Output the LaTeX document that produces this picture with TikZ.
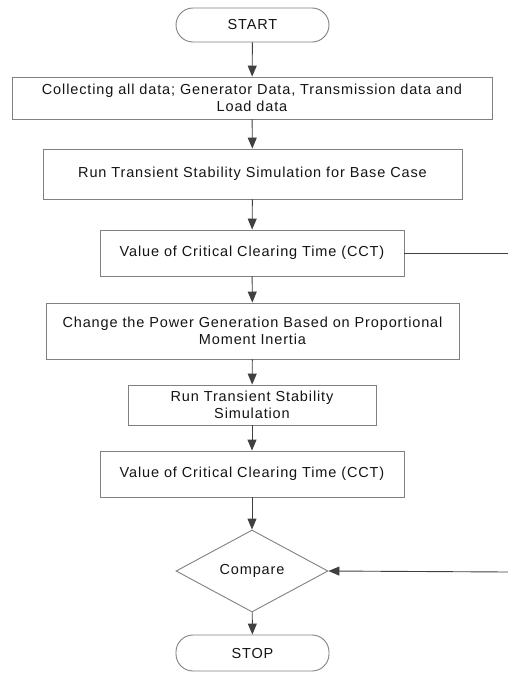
\documentclass[tikz,border=0pt]{standalone}
\usepackage{fontspec}
\setmainfont{Liberation Sans}[LetterSpace=6]
\usetikzlibrary{arrows.meta,shapes.geometric}
\definecolor{boxline}{gray}{0.5}
\definecolor{arrline}{gray}{0.25}
\definecolor{txt}{gray}{0.08}
\begin{document}
\begin{tikzpicture}[x=1pt,y=-1pt,
  every node/.style={font=\fontsize{14.5}{16.5}\selectfont, text=txt},
  procbox/.style={draw=boxline, line width=0.9pt, rectangle, align=center, inner sep=0pt},
  term/.style={draw=boxline, line width=0.9pt, rectangle, rounded corners=17pt, align=center, inner sep=0pt, minimum width=153pt},
  decide/.style={draw=boxline, line width=0.9pt, diamond, aspect=1.85, inner sep=0pt, minimum width=152pt, minimum height=82pt},
  flow/.style={draw=arrline, line width=0.9pt, -{Triangle[width=9pt,length=11pt]}},
  plainline/.style={draw=arrline, line width=0.9pt}]
\useasboundingbox (0,0) rectangle (508,673);
\node[term, minimum height=34pt] (start) at (252.5,25) {START};
\node[procbox, minimum width=480pt, minimum height=42pt] (b1) at (252,98)
  {Collecting all data; Generator Data, Transmission data and\\Load data};
\node[procbox, minimum width=419pt, minimum height=50pt] (b2) at (252.5,174)
  {Run Transient Stability Simulation for Base Case};
\node[procbox, minimum width=304pt, minimum height=46pt] (b3) at (252,253)
  {Value of Critical Clearing Time (CCT)};
\node[procbox, minimum width=413pt, minimum height=56pt] (b4) at (252.5,331)
  {Change the Power Generation Based on Proportional\\Moment Inertia};
\node[procbox, minimum width=248pt, minimum height=40pt] (b5) at (252,405)
  {Run Transient Stability\\Simulation};
\node[procbox, minimum width=304pt, minimum height=46pt] (b6) at (252,474)
  {Value of Critical Clearing Time (CCT)};
\node[decide] (cmp) at (252,571) {Compare};
\node[term, minimum height=36pt] (stop) at (252.5,653) {STOP};
\coordinate (r1) at (508,253);
\coordinate (r2) at (508,572);
\draw[flow] (start) -- (b1);
\draw[flow] (b1) -- (b2);
\draw[flow] (b2) -- (b3);
\draw[flow] (b3) -- (b4);
\draw[flow] (b4) -- (b5);
\draw[flow] (b5) -- (b6);
\draw[flow] (b6) -- (cmp);
\draw[flow] (cmp) -- (stop);
\draw[plainline] (b3.east) -- (r1);
\draw[flow] (r2) -- (cmp.east);
\end{tikzpicture}
\end{document}
